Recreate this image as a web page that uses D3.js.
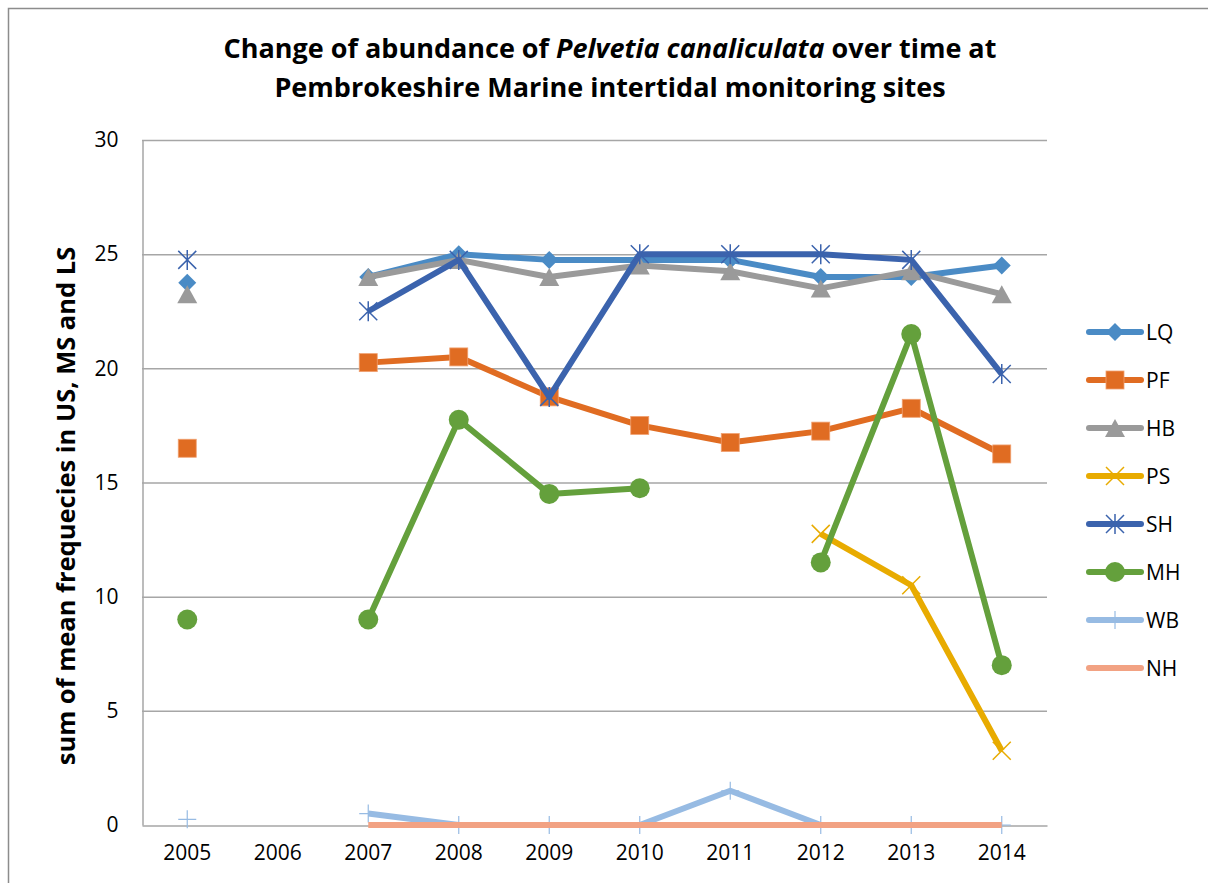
<!DOCTYPE html>
<html>
<head>
<meta charset="UTF-8">
<title>Pelvetia canaliculata abundance</title>
<script src="https://cdn.jsdelivr.net/npm/d3@7"></script>
<style>
  body { margin: 0; background: #fff; }
  svg text { font-family: "Open Sans", "Liberation Sans", sans-serif; }
</style>
</head>
<body>
<script>
// data
var years = ["2005", "2006", "2007", "2008", "2009", "2010", "2011", "2012", "2013", "2014"];
var yTicks = [0, 5, 10, 15, 20, 25, 30];

var LQ = [23.75, null, 24, 25, 24.75, 24.75, 24.75, 24, 24, 24.5];
var PF = [16.5, null, 20.25, 20.5, 18.75, 17.5, 16.75, 17.25, 18.25, 16.25];
var HB = [23.25, null, 24, 24.75, 24, 24.5, 24.25, 23.5, 24.25, 23.25];
var PS = [null, null, null, null, null, null, null, 12.75, 10.5, 3.25];
var SH = [24.75, null, 22.5, 24.75, 18.75, 25, 25, 25, 24.75, 19.75];
var MH = [9, null, 9, 17.75, 14.5, 14.75, null, 11.5, 21.5, 7];
var WB = [0.25, null, 0.5, 0, 0, 0, 1.5, 0, 0, 0];
var NH = [null, null, 0, 0, 0, 0, 0, 0, 0, 0];

var seriesNames = ["LQ", "PF", "HB", "PS", "SH", "MH", "WB", "NH"];
var seriesValues = [LQ, PF, HB, PS, SH, MH, WB, NH];
var seriesColors = ["#4a8bc5", "#e06c22", "#9a9a9a", "#e8ab00", "#3b63ad", "#64a03c", "#97bbe3", "#f2a283"];
var seriesMarkers = ["diamond", "square", "triangle", "x", "asterisk", "circle", "plus", "none"];

var W = 1208, H = 883;
var svg = d3.select("body").append("svg").attr("width", W).attr("height", H);

// outer chart border (only top/left visible in the picture)
svg.append("path").attr("d", "M8.5," + H + "V8.5H" + W)
   .attr("fill", "none").attr("stroke", "#8c8c8c").attr("stroke-width", 1.5);

var plotLeft = 142, plotRight = 1047, plotTop = 140, plotBottom = 825;

var x = d3.scaleBand().domain(years).range([plotLeft, plotRight]);
var y = d3.scaleLinear().domain([0, 30]).range([plotBottom, plotTop]);

// gridlines
svg.append("g").selectAll("line").data(yTicks.filter(function(d) { return d > 0; })).enter().append("line")
   .attr("x1", plotLeft).attr("x2", plotRight)
   .attr("y1", function(d) { return y(d) + 0.5; }).attr("y2", function(d) { return y(d) + 0.5; })
   .attr("stroke", "#a6a6a6").attr("stroke-width", 1.5);

// y axis
var yAxis = svg.append("g").attr("transform", "translate(" + (plotLeft + 0.5) + ",0)")
   .call(d3.axisLeft(y).tickValues(yTicks).tickSize(0).tickPadding(24));
yAxis.select(".domain").attr("stroke", "#a6a6a6").attr("stroke-width", 1.5);
yAxis.selectAll("text").attr("font-size", 21).attr("fill", "#000");

// x axis
var xAxis = svg.append("g").attr("transform", "translate(0," + (plotBottom + 0.5) + ")")
   .call(d3.axisBottom(x).tickSize(0).tickPadding(20));
xAxis.select(".domain").attr("stroke", "#a6a6a6").attr("stroke-width", 1.5);
xAxis.selectAll("text").attr("font-size", 21).attr("fill", "#000");

// titles
var title = svg.append("text").attr("x", 610).attr("y", 58).attr("text-anchor", "middle")
   .attr("font-size", 27).attr("font-weight", "bold");
title.append("tspan").text("Change of abundance of  ");
title.append("tspan").attr("font-style", "italic").text("Pelvetia canaliculata");
title.append("tspan").text(" over time at");
svg.append("text").attr("x", 610).attr("y", 97).attr("text-anchor", "middle")
   .attr("font-size", 27).attr("font-weight", "bold")
   .text("Pembrokeshire Marine intertidal monitoring sites");

svg.append("text").attr("transform", "translate(75,506) rotate(-90)")
   .attr("text-anchor", "middle").attr("font-size", 25.5).attr("font-weight", "bold")
   .text("sum of mean frequecies in US, MS and LS");

function drawMarker(g, type, color, cx, cy) {
  if (type === "diamond") {
    g.append("path").attr("d", "M" + cx + "," + (cy - 9) + "L" + (cx + 9) + "," + cy + "L" + cx + "," + (cy + 9) + "L" + (cx - 9) + "," + cy + "Z")
     .attr("fill", color);
  } else if (type === "square") {
    g.append("rect").attr("x", cx - 9).attr("y", cy - 9).attr("width", 18).attr("height", 18)
     .attr("fill", color).attr("stroke", "#f0a070").attr("stroke-width", 0.8);
  } else if (type === "triangle") {
    g.append("path").attr("d", "M" + cx + "," + (cy - 9) + "L" + (cx + 10) + "," + (cy + 9) + "L" + (cx - 10) + "," + (cy + 9) + "Z")
     .attr("fill", color);
  } else if (type === "circle") {
    g.append("circle").attr("cx", cx).attr("cy", cy).attr("r", 10).attr("fill", color);
  } else if (type === "x") {
    g.append("path").attr("d", "M" + (cx - 9) + "," + (cy - 9) + "L" + (cx + 9) + "," + (cy + 9) + "M" + (cx + 9) + "," + (cy - 9) + "L" + (cx - 9) + "," + (cy + 9))
     .attr("stroke", color).attr("stroke-width", 1.5);
  } else if (type === "asterisk") {
    g.append("path").attr("d", "M" + (cx - 9) + "," + (cy - 9) + "L" + (cx + 9) + "," + (cy + 9) + "M" + (cx + 9) + "," + (cy - 9) + "L" + (cx - 9) + "," + (cy + 9) + "M" + cx + "," + (cy - 10) + "V" + (cy + 10))
     .attr("stroke", color).attr("stroke-width", 1.5);
  } else if (type === "plus") {
    g.append("path").attr("d", "M" + (cx - 9) + "," + cy + "H" + (cx + 9) + "M" + cx + "," + (cy - 9) + "V" + (cy + 9))
     .attr("stroke", color).attr("stroke-width", 1.2);
  }
}

var line = d3.line()
   .defined(function(d) { return d != null; })
   .x(function(d, i) { return x(years[i]) + x.bandwidth() / 2; })
   .y(function(d) { return y(d); });

// series drawn in order, later ones on top (NH covers WB along zero)
seriesNames.forEach(function(name, k) {
  var g = svg.append("g");
  var vals = seriesValues[k];
  g.append("path").attr("d", line(vals)).attr("fill", "none")
   .attr("stroke", seriesColors[k]).attr("stroke-width", 6).attr("stroke-linejoin", "round");
  vals.forEach(function(v, i) {
    if (v == null) return;
    drawMarker(g, seriesMarkers[k], seriesColors[k], x(years[i]) + x.bandwidth() / 2, y(v));
  });
});

// legend
var legend = svg.append("g");
seriesNames.forEach(function(name, i) {
  var ly = 332 + i * 48;
  legend.append("line").attr("x1", 1089).attr("x2", 1141).attr("y1", ly).attr("y2", ly)
   .attr("stroke", seriesColors[i]).attr("stroke-width", 6).attr("stroke-linecap", "round");
  drawMarker(legend, seriesMarkers[i], seriesColors[i], 1115, ly);
  legend.append("text").attr("x", 1146).attr("y", ly + 8).attr("font-size", 21).text(name);
});
</script>
</body>
</html>
